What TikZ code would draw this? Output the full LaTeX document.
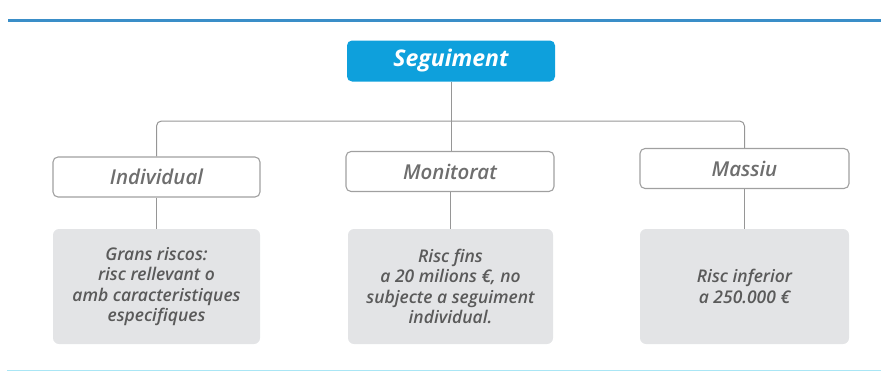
\documentclass[tikz,border=0pt]{standalone}
\usepackage{fontspec}
\setmainfont{Open Sans}
\newfontfamily\semiit{Open Sans Semibold Italic}
\definecolor{segblue}{RGB}{14,160,220}
\definecolor{topline}{RGB}{58,142,200}
\definecolor{botline}{RGB}{170,230,245}
\definecolor{boxedge}{RGB}{160,160,160}
\definecolor{greyfill}{RGB}{227,228,230}
\definecolor{labelgrey}{RGB}{110,110,110}
\definecolor{textgrey}{RGB}{90,90,90}
\definecolor{conngrey}{RGB}{150,150,150}
\tikzset{
  segbox/.style={draw=none, fill=segblue, rounded corners=5pt, minimum width=208pt, minimum height=41pt, inner sep=0pt,
    text=white, font=\fontsize{23}{26}\selectfont\bfseries\itshape},
  catbox/.style={draw=boxedge, line width=1.1pt, fill=white, rounded corners=5pt, minimum height=40pt, inner sep=0pt,
    text=labelgrey, font=\fontsize{20.5}{24}\selectfont\semiit},
  descbox/.style={draw=none, fill=greyfill, rounded corners=6pt, minimum height=115pt, inner sep=0pt,
    text=textgrey, align=center, font=\fontsize{17.5}{20.5}\selectfont\semiit},
  conn/.style={draw=conngrey, line width=1pt}
}
\begin{document}
\begin{tikzpicture}[x=1pt,y=-1pt]
\useasboundingbox (0,0) rectangle (881,372);
% decorative lines
\draw[topline, line width=3pt] (8,20) -- (881,20);
\draw[botline, line width=1.5pt] (7,370.5) -- (881,370.5);
% nodes
\node[segbox] (seg) at (451,61) {Seguiment};
\node[catbox, minimum width=207pt] (ind) at (156.5,177) {Individual};
\node[catbox, minimum width=208pt] (mon) at (450,171.5) {Monitorat};
\node[catbox, minimum width=209pt] (mas) at (744.5,168.5) {Massiu};
\node[descbox, minimum width=207pt] (indg) at (156.5,286.5) {Grans riscos:\\risc rellevant o\\amb caracteristiques\\especifiques};
\node[descbox, minimum width=205pt] (mong) at (450.5,286.5) {Risc fins\\a 20 milions €, no\\subjecte a seguiment\\individual.};
\node[descbox, minimum width=209pt] (masg) at (744.5,286.5) {Risc inferior\\a 250.000 €};
% connectors
\coordinate (hl) at (451,121);
\draw[conn] (seg.south) -- (hl);
\draw[conn] (hl) -- (hl |- mon.north);
\draw[conn, rounded corners=5pt] (ind.north) |- (hl) -| (mas.north);
\draw[conn] (ind.south) -- (indg.north);
\draw[conn] (mon.south) -- (mon.south |- mong.north);
\draw[conn] (mas.south) -- (masg.north);
\end{tikzpicture}
\end{document}
